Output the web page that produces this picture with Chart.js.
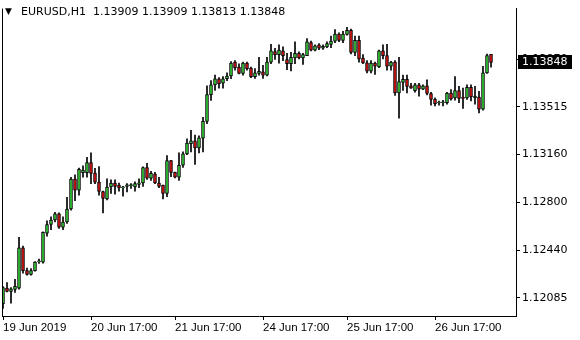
<!DOCTYPE html>
<html>
<head>
<meta charset="utf-8">
<script src="https://cdn.jsdelivr.net/npm/chart.js@4.4.1/dist/chart.umd.min.js"></script>
<style>
  html, body { margin: 0; padding: 0; background: #fff; }
</style>
</head>
<body>
<canvas id="chart" width="580" height="340"></canvas>
<script>
// EURUSD H1 candles (oldest first)
const opens = [
  1.12041, 1.12158, 1.12133, 1.12148, 1.12158, 1.12459, 1.12289, 1.12260, 1.12289, 1.12354,
  1.12352, 1.12570, 1.12634, 1.12668, 1.12714, 1.12614, 1.12653, 1.12750, 1.12974, 1.12891,
  1.13022, 1.13022, 1.13098, 1.13020, 1.12952, 1.12881, 1.12825, 1.12915, 1.12945, 1.12930,
  1.12908, 1.12920, 1.12925, 1.12915, 1.12934, 1.12945, 1.13061, 1.12981, 1.13012, 1.12945,
  1.12930, 1.12867, 1.13112, 1.13025, 1.12988, 1.13078, 1.13163, 1.13240, 1.13260, 1.13207,
  1.13280, 1.13406, 1.13607, 1.13680, 1.13726, 1.13692, 1.13726, 1.13746, 1.13850, 1.13814,
  1.13765, 1.13843, 1.13806, 1.13741, 1.13765, 1.13777, 1.13753, 1.13850, 1.13930, 1.13906,
  1.13935, 1.13870, 1.13838, 1.13881, 1.13916, 1.13881, 1.13899, 1.13996, 1.13940, 1.13979,
  1.13954, 1.13964, 1.13983, 1.14008, 1.14061, 1.14013, 1.14057, 1.14088, 1.13923, 1.14013,
  1.13881, 1.13845, 1.13782, 1.13843, 1.13814, 1.13935, 1.13899, 1.13819, 1.13850, 1.13619,
  1.13699, 1.13721, 1.13673, 1.13637, 1.13680, 1.13648, 1.13673, 1.13615, 1.13571, 1.13544,
  1.13546, 1.13546, 1.13619, 1.13583, 1.13637, 1.13588, 1.13583, 1.13661, 1.13583, 1.13588,
  1.13498, 1.13770, 1.13909
];
const highs = [
  1.12170, 1.12199, 1.12162, 1.12223, 1.12539, 1.12473, 1.12308, 1.12304, 1.12357, 1.12376,
  1.12580, 1.12661, 1.12692, 1.12726, 1.12721, 1.12692, 1.12838, 1.12988, 1.13007, 1.13056,
  1.13073, 1.13138, 1.13170, 1.13054, 1.13068, 1.12885, 1.12976, 1.12969, 1.12969, 1.12945,
  1.12920, 1.12940, 1.12940, 1.12954, 1.12976, 1.13066, 1.13092, 1.13032, 1.13025, 1.12988,
  1.12930, 1.13151, 1.13115, 1.13027, 1.13170, 1.13178, 1.13275, 1.13340, 1.13304, 1.13299,
  1.13437, 1.13673, 1.13712, 1.13753, 1.13734, 1.13741, 1.13770, 1.13855, 1.13862, 1.13838,
  1.13850, 1.13850, 1.13814, 1.13801, 1.13887, 1.13826, 1.13887, 1.13983, 1.13954, 1.13979,
  1.13964, 1.13916, 1.13923, 1.14003, 1.13928, 1.13916, 1.14027, 1.14008, 1.13979, 1.13989,
  1.13979, 1.14003, 1.14045, 1.14093, 1.14069, 1.14081, 1.14110, 1.14098, 1.14045, 1.14045,
  1.13906, 1.13862, 1.13862, 1.13850, 1.13940, 1.13979, 1.13983, 1.13857, 1.13862, 1.13887,
  1.13753, 1.13753, 1.13692, 1.13692, 1.13692, 1.13680, 1.13717, 1.13624, 1.13583, 1.13559,
  1.13564, 1.13624, 1.13644, 1.13741, 1.13668, 1.13656, 1.13680, 1.13680, 1.13668, 1.13632,
  1.13819, 1.13911, 1.13909
];
const lows = [
  1.12005, 1.12130, 1.12046, 1.12126, 1.12150, 1.12269, 1.12255, 1.12255, 1.12284, 1.12342,
  1.12344, 1.12546, 1.12595, 1.12653, 1.12604, 1.12595, 1.12643, 1.12741, 1.12813, 1.12854,
  1.12988, 1.12988, 1.12940, 1.12940, 1.12854, 1.12721, 1.12818, 1.12867, 1.12862, 1.12883,
  1.12847, 1.12879, 1.12905, 1.12883, 1.12910, 1.12920, 1.12971, 1.12964, 1.12940, 1.12910,
  1.12825, 1.12843, 1.12993, 1.12983, 1.12964, 1.13061, 1.13158, 1.13178, 1.13085, 1.13170,
  1.13178, 1.13389, 1.13564, 1.13639, 1.13656, 1.13656, 1.13712, 1.13726, 1.13790, 1.13761,
  1.13753, 1.13790, 1.13734, 1.13728, 1.13753, 1.13728, 1.13746, 1.13838, 1.13870, 1.13843,
  1.13862, 1.13794, 1.13785, 1.13838, 1.13874, 1.13833, 1.13899, 1.13935, 1.13935, 1.13943,
  1.13945, 1.13959, 1.13959, 1.13996, 1.14003, 1.13996, 1.14052, 1.13911, 1.13899, 1.13850,
  1.13838, 1.13770, 1.13770, 1.13758, 1.13809, 1.13874, 1.13790, 1.13790, 1.13600, 1.13430,
  1.13639, 1.13619, 1.13653, 1.13626, 1.13595, 1.13644, 1.13605, 1.13527, 1.13522, 1.13527,
  1.13522, 1.13535, 1.13566, 1.13566, 1.13546, 1.13503, 1.13571, 1.13559, 1.13535, 1.13469,
  1.13490, 1.13765, 1.13813
];
const closes = [
  1.12162, 1.12133, 1.12153, 1.12172, 1.12459, 1.12289, 1.12260, 1.12289, 1.12352, 1.12357,
  1.12575, 1.12634, 1.12668, 1.12714, 1.12614, 1.12653, 1.12750, 1.12974, 1.12891, 1.13047,
  1.13041, 1.13098, 1.13017, 1.12952, 1.12881, 1.12830, 1.12915, 1.12945, 1.12920, 1.12908,
  1.12910, 1.12932, 1.12925, 1.12940, 1.12947, 1.13061, 1.12981, 1.13017, 1.12945, 1.12920,
  1.12867, 1.13112, 1.13025, 1.12988, 1.13078, 1.13163, 1.13243, 1.13260, 1.13207, 1.13284,
  1.13406, 1.13607, 1.13680, 1.13726, 1.13688, 1.13726, 1.13746, 1.13843, 1.13809, 1.13765,
  1.13843, 1.13801, 1.13741, 1.13770, 1.13782, 1.13753, 1.13850, 1.13935, 1.13906, 1.13940,
  1.13899, 1.13838, 1.13887, 1.13916, 1.13881, 1.13906, 1.14003, 1.13940, 1.13972, 1.13954,
  1.13969, 1.13989, 1.14008, 1.14061, 1.14013, 1.14061, 1.14088, 1.13923, 1.14013, 1.13874,
  1.13845, 1.13782, 1.13843, 1.13819, 1.13935, 1.13899, 1.13819, 1.13850, 1.13619, 1.13704,
  1.13721, 1.13668, 1.13656, 1.13680, 1.13648, 1.13673, 1.13615, 1.13571, 1.13539, 1.13546,
  1.13546, 1.13619, 1.13575, 1.13637, 1.13578, 1.13578, 1.13661, 1.13590, 1.13595, 1.13498,
  1.13770, 1.13899, 1.13848
];

const timeLabels = ['19 Jun 2019', '20 Jun 17:00', '21 Jun 17:00', '24 Jun 17:00', '25 Jun 17:00', '26 Jun 17:00'];
const labelBars = [0, 22, 43, 65, 86, 108];
const priceTicks = [1.12085, 1.12440, 1.12800, 1.13160, 1.13515, 1.13870];
const symbol = 'EURUSD,H1';

const BULL = '#36cc36';
const BEAR = '#d81414';

const idx = opens.map((_, i) => i);
const isUp = idx.map(i => closes[i] >= opens[i]);
const last = opens.length - 1;

const overlay = {
    id: 'overlay',
    afterDraw(chart) {
        const ctx = chart.ctx;
        const a = chart.chartArea;
        ctx.save();
        // left edge of the plot frame
        ctx.strokeStyle = '#000';
        ctx.lineWidth = 1;
        ctx.beginPath();
        ctx.moveTo(a.left + 0.5, a.top);
        ctx.lineTo(a.left + 0.5, a.bottom);
        ctx.stroke();

        // header line
        ctx.fillStyle = '#000';
        ctx.textBaseline = 'middle';
        ctx.font = '9px "DejaVu Sans"';
        ctx.fillText('▼', 5, 12);
        ctx.font = '11px "DejaVu Sans"';
        const hdr = symbol + '  ' + [opens[last], highs[last], lows[last], closes[last]]
            .map(v => v.toFixed(5)).join(' ');
        ctx.fillText(hdr, 21, 12);

        // current price tag on the axis
        const y = chart.scales.y.getPixelForValue(closes[last]);
        ctx.fillStyle = '#000';
        ctx.fillRect(a.right + 2, Math.round(y) - 7, 54, 14);
        ctx.fillStyle = '#fff';
        ctx.fillText(closes[last].toFixed(5), a.right + 6, Math.round(y));
        ctx.restore();
    }
};

new Chart(document.getElementById('chart'), {
    type: 'bar',
    data: {
        datasets: [
            {
                label: 'wick',
                data: idx.map(i => ({x: i, y: [lows[i], highs[i]]})),
                backgroundColor: '#000',
                borderWidth: 0,
                barThickness: 1,
                grouped: false,
                order: 2
            },
            {
                label: 'body',
                data: idx.map(i => ({x: i, y: [opens[i], closes[i]]})),
                backgroundColor: idx.map(i => isUp[i] ? BULL : BEAR),
                borderColor: '#000',
                borderWidth: 1,
                borderSkipped: false,
                barThickness: 3,
                minBarLength: 1,
                grouped: false,
                order: 1
            }
        ]
    },
    options: {
        responsive: false,
        animation: false,
        layout: { padding: { left: 2, top: 0, right: 0, bottom: 0 } },
        plugins: { legend: { display: false }, tooltip: { enabled: false } },
        scales: {
            x: {
                type: 'linear',
                offset: false,
                min: -0.25,
                max: 128.25,
                afterBuildTicks: scale => { scale.ticks = labelBars.map(v => ({value: v})); },
                afterFit: scale => { scale.height = 24; },
                grid: { drawOnChartArea: false, offset: false, color: '#000', tickLength: 4 },
                border: { display: true, color: '#000' },
                ticks: {
                    autoSkip: false,
                    maxRotation: 0,
                    align: 'start',
                    padding: 1,
                    color: '#000',
                    font: { family: 'Liberation Sans', size: 11.5 },
                    callback: (v, i) => timeLabels[i]
                }
            },
            y: {
                position: 'right',
                min: 1.11949,
                max: 1.14251,
                afterBuildTicks: scale => { scale.ticks = priceTicks.map(v => ({value: v})); },
                afterFit: scale => { scale.width = 64; },
                grid: { drawOnChartArea: false, color: '#000', tickLength: 4 },
                border: { display: true, color: '#000' },
                ticks: {
                    padding: 2,
                    color: '#000',
                    font: { family: 'DejaVu Sans', size: 11 },
                    callback: v => v.toFixed(5)
                }
            }
        }
    },
    plugins: [overlay]
});
</script>
</body>
</html>
